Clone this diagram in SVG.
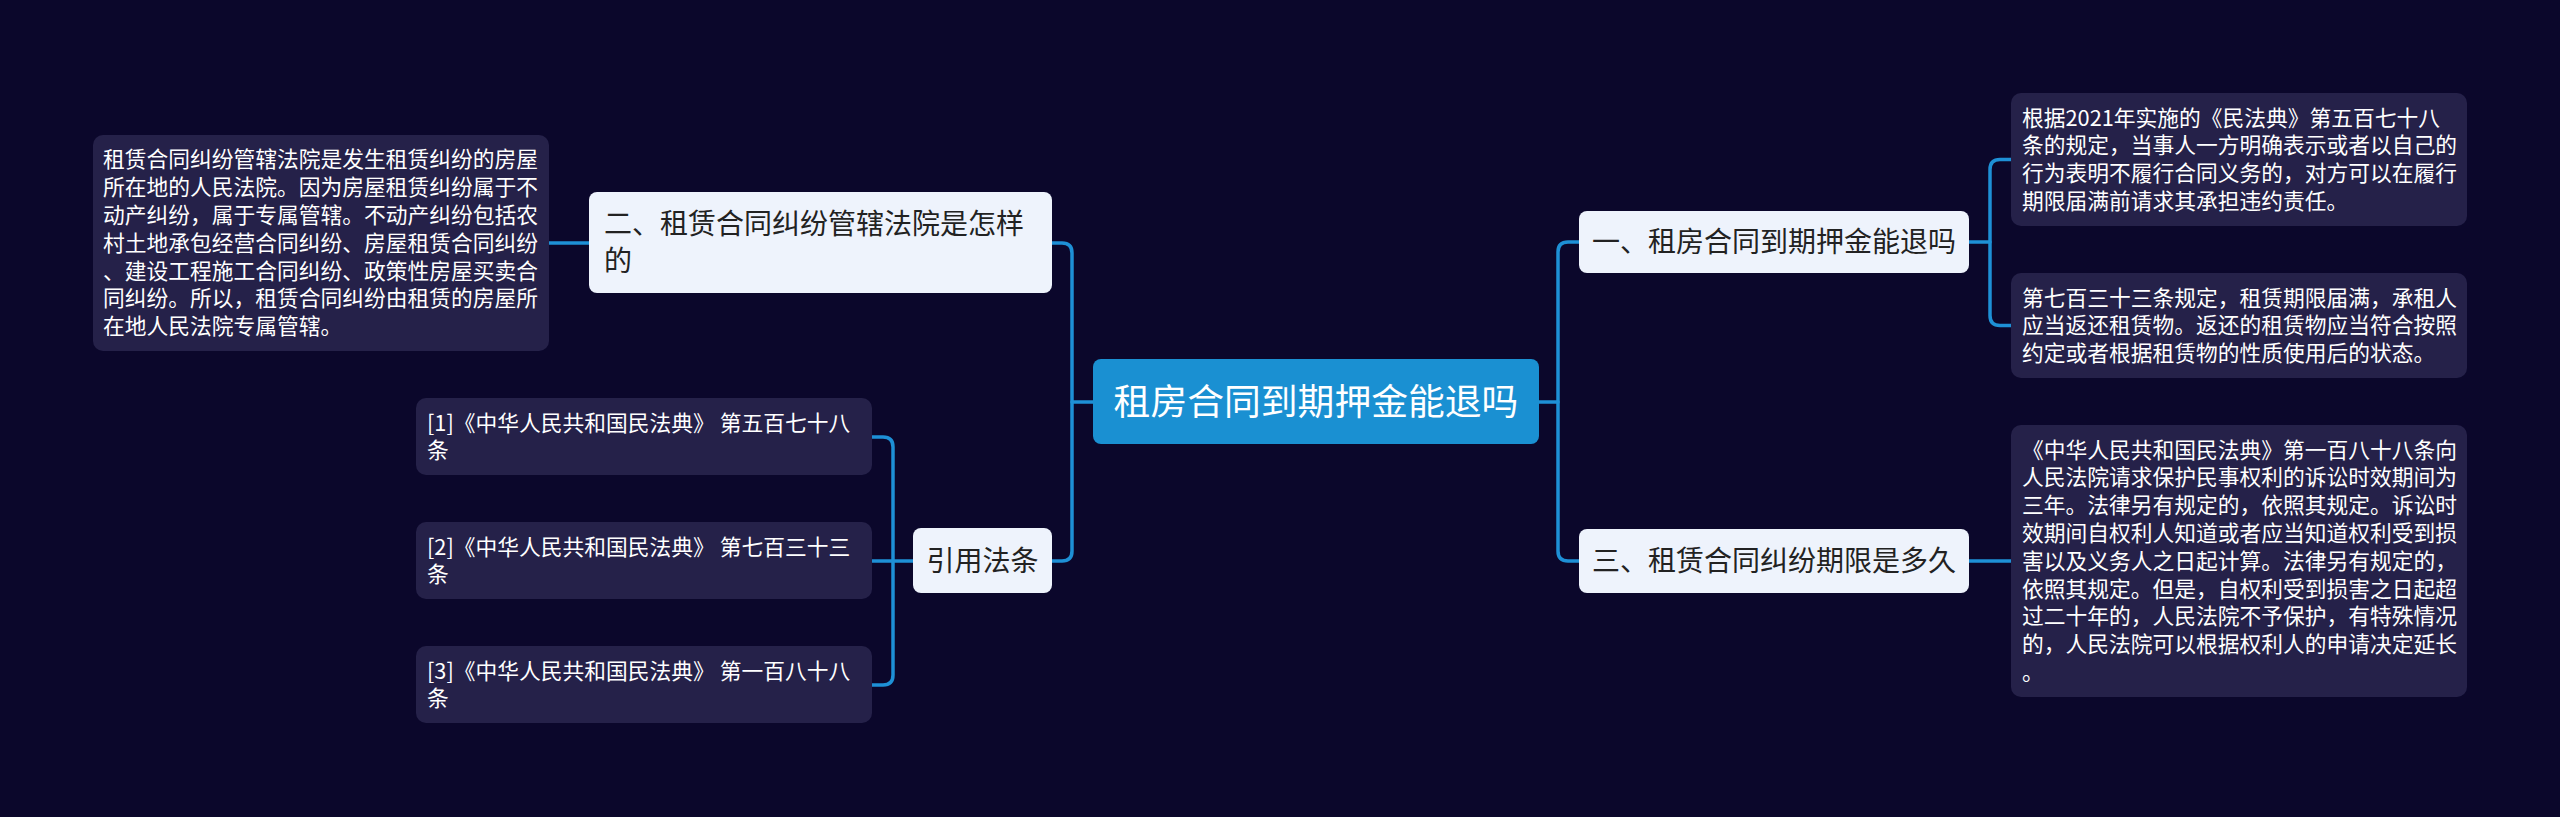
<svg xmlns="http://www.w3.org/2000/svg" width="2560" height="817" viewBox="0 0 2560 817">
<style>
.bg{fill:#0b072b}
.conn{fill:none;stroke:#1e90d6;stroke-width:3.5;stroke-linecap:round}
.light{fill:#eef3fc}
.dark{fill:#252149}
.center{fill:#1a90d2}
text{font-family:"Noto Sans CJK SC","Noto Sans",sans-serif}
.t28{font-size:28px;fill:#222222}
.t22{font-size:21.75px;fill:#ffffff}
.t37{font-size:36.8px;fill:#ffffff}
</style>
<rect class="bg" x="0" y="0" width="2560" height="817"/>
<g id="connectors">
<path class="conn" d="M1093,402 H1072"/>
<path class="conn" d="M1052,243 H1062 Q1072,243 1072,253 V551 Q1072,561 1062,561 H1052"/>
<path class="conn" d="M1539,402 H1558"/>
<path class="conn" d="M1579,242 H1568 Q1558,242 1558,252 V551 Q1558,561 1568,561 H1579"/>
<path class="conn" d="M1969,242 H1990"/>
<path class="conn" d="M2011,159.5 H2000 Q1990,159.5 1990,169.5 V315.5 Q1990,325.5 2000,325.5 H2011"/>
<path class="conn" d="M1969,561 H2011"/>
<path class="conn" d="M549,243 H589"/>
<path class="conn" d="M913,561 H872"/>
<path class="conn" d="M872,437 H883 Q893,437 893,447 V675 Q893,685 883,685 H872"/>
</g>
<g id="node-center">
<rect class="center" x="1093" y="359" width="446" height="85" rx="8"/>
<text class="t37" x="1316" y="414.5" text-anchor="middle">租房合同到期押金能退吗</text>
</g>
<g id="node-2">
<rect class="light" x="589" y="192" width="463" height="101" rx="8"/>
<text class="t28"><tspan x="604" y="234">二、租赁合同纠纷管辖法院是怎样</tspan><tspan x="604" y="271">的</tspan></text>
</g>
<g id="node-2-detail">
<rect class="dark" x="93" y="135" width="456" height="216" rx="10"/>
<text class="t22"><tspan x="103" y="167.4">租赁合同纠纷管辖法院是发生租赁纠纷的房屋</tspan><tspan x="103" y="195.2">所在地的人民法院。因为房屋租赁纠纷属于不</tspan><tspan x="103" y="223">动产纠纷，属于专属管辖。不动产纠纷包括农</tspan><tspan x="103" y="250.8">村土地承包经营合同纠纷、房屋租赁合同纠纷</tspan><tspan x="103" y="278.6">、建设工程施工合同纠纷、政策性房屋买卖合</tspan><tspan x="103" y="306.4">同纠纷。所以，租赁合同纠纷由租赁的房屋所</tspan><tspan x="103" y="334.2">在地人民法院专属管辖。</tspan></text>
</g>
<g id="node-refs">
<rect class="light" x="913" y="528" width="139" height="65" rx="8"/>
<text class="t28" x="982.5" y="570.5" text-anchor="middle">引用法条</text>
</g>
<g id="ref-1">
<rect class="dark" x="416" y="398" width="456" height="77" rx="10"/>
<text class="t22"><tspan x="427" y="430.5">[1]《中华人民共和国民法典》 第五百七十八</tspan><tspan x="427" y="458.3">条</tspan></text>
</g>
<g id="ref-2">
<rect class="dark" x="416" y="522" width="456" height="77" rx="10"/>
<text class="t22"><tspan x="427" y="554.5">[2]《中华人民共和国民法典》 第七百三十三</tspan><tspan x="427" y="582.3">条</tspan></text>
</g>
<g id="ref-3">
<rect class="dark" x="416" y="646" width="456" height="77" rx="10"/>
<text class="t22"><tspan x="427" y="678.5">[3]《中华人民共和国民法典》 第一百八十八</tspan><tspan x="427" y="706.3">条</tspan></text>
</g>
<g id="node-1">
<rect class="light" x="1579" y="211" width="390" height="62" rx="8"/>
<text class="t28" x="1592" y="252">一、租房合同到期押金能退吗</text>
</g>
<g id="node-1-detail-a">
<rect class="dark" x="2011" y="93" width="456" height="133" rx="10"/>
<text class="t22"><tspan x="2022" y="125.6">根据2021年实施的《民法典》第五百七十八</tspan><tspan x="2022" y="153.4">条的规定，当事人一方明确表示或者以自己的</tspan><tspan x="2022" y="181.2">行为表明不履行合同义务的，对方可以在履行</tspan><tspan x="2022" y="209">期限届满前请求其承担违约责任。</tspan></text>
</g>
<g id="node-1-detail-b">
<rect class="dark" x="2011" y="273" width="456" height="105" rx="10"/>
<text class="t22"><tspan x="2022" y="305.5">第七百三十三条规定，租赁期限届满，承租人</tspan><tspan x="2022" y="333.3">应当返还租赁物。返还的租赁物应当符合按照</tspan><tspan x="2022" y="361.1">约定或者根据租赁物的性质使用后的状态。</tspan></text>
</g>
<g id="node-3">
<rect class="light" x="1579" y="529" width="390" height="64" rx="8"/>
<text class="t28" x="1592" y="571">三、租赁合同纠纷期限是多久</text>
</g>
<g id="node-3-detail">
<rect class="dark" x="2011" y="425" width="456" height="272" rx="10"/>
<text class="t22"><tspan x="2022" y="457.6">《中华人民共和国民法典》第一百八十八条向</tspan><tspan x="2022" y="485.4">人民法院请求保护民事权利的诉讼时效期间为</tspan><tspan x="2022" y="513.2">三年。法律另有规定的，依照其规定。诉讼时</tspan><tspan x="2022" y="541">效期间自权利人知道或者应当知道权利受到损</tspan><tspan x="2022" y="568.8">害以及义务人之日起计算。法律另有规定的，</tspan><tspan x="2022" y="596.6">依照其规定。但是，自权利受到损害之日起超</tspan><tspan x="2022" y="624.4">过二十年的，人民法院不予保护，有特殊情况</tspan><tspan x="2022" y="652.2">的，人民法院可以根据权利人的申请决定延长</tspan><tspan x="2022" y="680">。</tspan></text>
</g>
</svg>
